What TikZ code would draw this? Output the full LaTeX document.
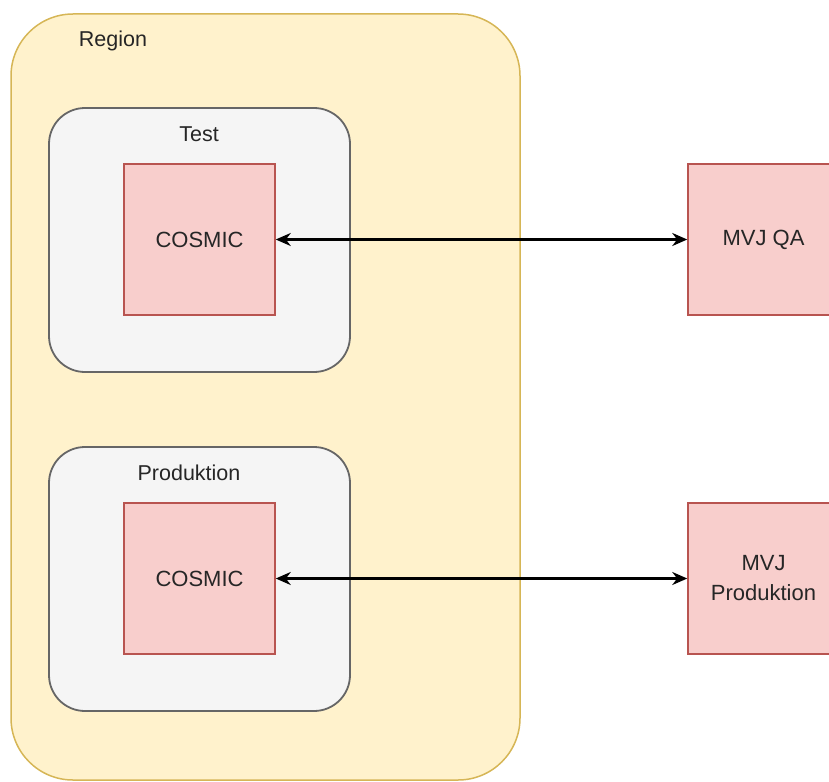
\documentclass[tikz,border=0pt]{standalone}
\usepackage{fontspec}
\setmainfont{Liberation Sans}
\usetikzlibrary{arrows.meta,positioning}
\definecolor{regionfill}{HTML}{FFF2CC}
\definecolor{regionline}{HTML}{D6B656}
\definecolor{envfill}{HTML}{F5F5F5}
\definecolor{envline}{HTML}{666666}
\definecolor{sysfill}{HTML}{F8CECC}
\definecolor{sysline}{HTML}{B85450}
\definecolor{txt}{HTML}{262626}
\tikzset{
  regionbox/.style={draw=regionline, fill=regionfill, line width=1.5pt, rounded corners=62pt, minimum width=509pt, minimum height=766pt},
  envbox/.style={draw=envline, fill=envfill, line width=1.8pt, rounded corners=36pt, minimum width=301pt, minimum height=264pt},
  sysbox/.style={draw=sysline, fill=sysfill, line width=1.5pt, minimum width=151pt, minimum height=151pt, align=center, text=txt, font=\fontsize{22}{30}\selectfont},
  tag/.style={text=txt, font=\fontsize{21.5}{25}\selectfont},
  link/.style={{Stealth[length=15pt,width=13pt]}-{Stealth[length=15pt,width=13pt]}, line width=2.4pt, draw=black}
}
\begin{document}
\begin{tikzpicture}[x=1pt, y=-1pt]
\useasboundingbox (0,0) rectangle (829,781);
%region
\node[regionbox] (region) at (265.5,397) {};
\node[tag] (regionlabel) at (113,41) {Region};
%test
\node[envbox] (test) at (199.5,240) {};
\node[tag] (testlabel) at (199,134) {Test};
\node[sysbox] (cosmictest) at (199.5,239.5) {COSMIC};
%produktion
\node[envbox] (prod) at (199.5,579) {};
\node[tag] (prodlabel) at (189,473) {Produktion};
\node[sysbox] (cosmicprod) at (199.5,578.5) {COSMIC};
%mvj
\node[sysbox] (mvjqa) at (763.5,239.5) {MVJ QA};
\node[sysbox] (mvjprod) at (763.5,578.5) {MVJ\\Produktion};
%links
\draw[link] (cosmictest) -- (mvjqa);
\draw[link] (cosmicprod) -- (mvjprod);
\end{tikzpicture}
\end{document}
